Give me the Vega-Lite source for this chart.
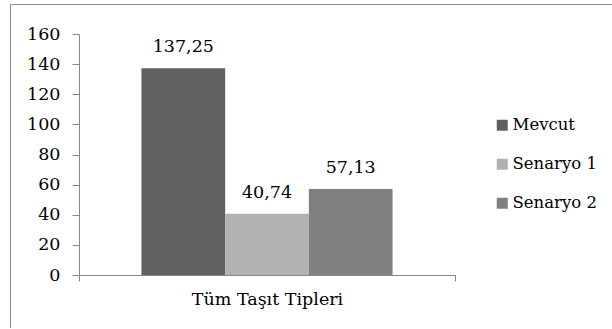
{
  "$schema": "https://vega.github.io/schema/vega-lite/v6.json",
  "width": 604,
  "height": 324,
  "autosize": "none",
  "padding": {"left": 10, "top": 4, "right": 0, "bottom": 0},
  "background": "white",
  "config": {
    "font": "DejaVu Serif",
    "locale": {"number": {"decimal": ",", "thousands": ".", "grouping": [3], "currency": ["", " TL"]}},
    "view": {"stroke": "#8c8c8c", "strokeWidth": 1},
    "axis": {
      "domainColor": "#868686",
      "tickColor": "#868686",
      "labelColor": "#000000",
      "labelFont": "DejaVu Serif",
      "labelFontSize": 17.5,
      "grid": false,
      "title": null
    },
    "legend": {
      "orient": "none",
      "legendX": 484,
      "legendY": 113,
      "title": null,
      "symbolType": "square",
      "symbolSize": 121,
      "symbolStrokeWidth": 0,
      "labelFont": "DejaVu Serif",
      "labelFontSize": 16.5,
      "labelColor": "#000000",
      "rowPadding": 22,
      "labelOffset": 2
    }
  },
  "data": {
    "values": [
      {"kategori": "Tüm Taşıt Tipleri", "seri": "Mevcut", "deger": 137.25},
      {"kategori": "Tüm Taşıt Tipleri", "seri": "Senaryo 1", "deger": 40.74},
      {"kategori": "Tüm Taşıt Tipleri", "seri": "Senaryo 2", "deger": 57.13}
    ]
  },
  "encoding": {
    "x": {
      "field": "kategori",
      "type": "nominal",
      "scale": {"range": [69, 445], "paddingInner": 0, "paddingOuter": 0},
      "axis": {"title": null, "labelAngle": 0, "offset": -53, "tickBand": "extent", "tickSize": 6, "labelPadding": 9, "labelFontSize": 17.5}
    },
    "xOffset": {
      "field": "seri",
      "type": "nominal",
      "sort": ["Mevcut", "Senaryo 1", "Senaryo 2"],
      "scale": {"paddingInner": 0, "paddingOuter": 0.746}
    },
    "y": {
      "field": "deger",
      "type": "quantitative",
      "scale": {"domain": [0, 160], "range": [271, 30], "nice": false, "zero": true},
      "axis": {"title": null, "values": [0, 20, 40, 60, 80, 100, 120, 140, 160], "offset": -69, "tickSize": 7, "labelPadding": 12, "format": "d"}
    }
  },
  "layer": [
    {
      "mark": {"type": "bar"},
      "encoding": {
        "color": {
          "field": "seri",
          "type": "nominal",
          "scale": {"domain": ["Mevcut", "Senaryo 1", "Senaryo 2"], "range": ["#606060", "#b2b2b2", "#808080"]},
          "legend": {"title": null}
        }
      }
    },
    {
      "mark": {"type": "text", "dy": -21, "fontSize": 17.5, "font": "DejaVu Serif", "color": "#000000"},
      "encoding": {
        "text": {"field": "deger", "type": "quantitative", "format": ".2f"}
      }
    }
  ]
}
